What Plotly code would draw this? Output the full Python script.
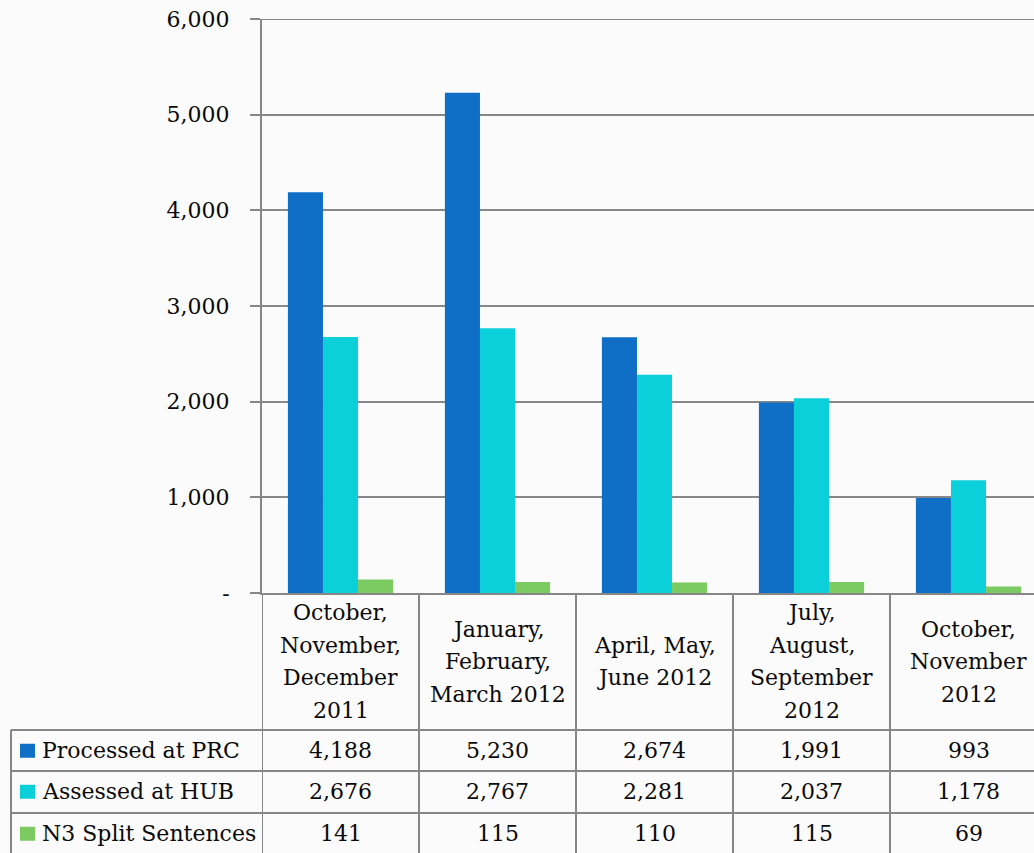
import plotly.graph_objects as go

categories = ["October,<br>November,<br>December<br>2011",
              "January,<br>February,<br>March 2012",
              "April, May,<br>June 2012",
              "July,<br>August,<br>September<br>2012",
              "October,<br>November<br>2012"]
series_names = ["Processed at PRC", "Assessed at HUB", "N3 Split Sentences"]
processed = [4188, 5230, 2674, 1991, 993]
assessed = [2676, 2767, 2281, 2037, 1178]
split = [141, 115, 110, 115, 69]
series_values = [processed, assessed, split]
colors = ["#0F6FC6", "#0BD0D9", "#7CCA62"]
ytick_vals = [0, 1000, 2000, 3000, 4000, 5000, 6000]
ytick_text = ["-", "1,000", "2,000", "3,000", "4,000", "5,000", "6,000"]

W, H = 1034, 853
L, R, T, B = 262, 0, 19, 260
PW = W - L - R
PH = H - T - B
FONT = "DejaVu Serif"
FS = 22
GRID = "#878787"
BG = "#fbfbfb"
TXT = "#0a0a0a"


def px_x(px):
    return (px - L) / PW


def px_y(py):
    return (H - B - py) / PH


fig = go.Figure()
for name, vals, col in zip(series_names, series_values, colors):
    fig.add_bar(x=categories, y=vals, name=name, marker=dict(color=col, line=dict(width=0)))

shapes = []
annotations = []
n = len(categories)
bottom = px_y(H + 5)
# vertical table lines (category boundaries)
for i in range(n + 1):
    shapes.append(dict(type="line", xref="x", yref="paper", x0=i - 0.5, x1=i - 0.5,
                       y0=0, y1=bottom, line=dict(color=GRID, width=2)))
# top gridline
shapes.append(dict(type="line", xref="paper", yref="y", x0=0, x1=1, y0=6000, y1=6000,
                   line=dict(color=GRID, width=2)))
# horizontal table lines
row_tops = [730, 771, 813]
for ry in row_tops:
    shapes.append(dict(type="line", xref="paper", yref="paper", x0=px_x(11), x1=1,
                       y0=px_y(ry), y1=px_y(ry), line=dict(color=GRID, width=2)))
# left border of the legend column
shapes.append(dict(type="line", xref="paper", yref="paper", x0=px_x(11), x1=px_x(11),
                   y0=px_y(730), y1=bottom, line=dict(color=GRID, width=2)))

# category header labels (one annotation per line for Excel-like line pitch)
pitch = 32.5
for i, c in enumerate(categories):
    lines = c.split("<br>")
    k = len(lines)
    for j, ln in enumerate(lines):
        cy = 661.5 + (j - (k - 1) / 2) * pitch
        annotations.append(dict(x=i, y=px_y(cy), xref="x", yref="paper", text=ln,
                                showarrow=False, xanchor="center", yanchor="middle",
                                font=dict(family=FONT, size=FS, color=TXT)))

row_h = 41.5
for r, (name, vals, col) in enumerate(zip(series_names, series_values, colors)):
    cy = row_tops[r] + row_h / 2
    shapes.append(dict(type="rect", xref="paper", yref="paper", x0=px_x(20), x1=px_x(35),
                       y0=px_y(cy - 7), y1=px_y(cy + 7), fillcolor=col, line=dict(width=0)))
    annotations.append(dict(x=px_x(40), y=px_y(cy), xref="paper", yref="paper", text=name,
                            showarrow=False, xanchor="left", yanchor="middle",
                            font=dict(family=FONT, size=FS, color=TXT)))
    for i, v in enumerate(vals):
        annotations.append(dict(x=i, y=px_y(cy), xref="x", yref="paper", text=f"{v:,}",
                                showarrow=False, xanchor="center", yanchor="middle",
                                font=dict(family=FONT, size=FS, color=TXT)))

fig.update_layout(
    width=W, height=H,
    margin=dict(l=L, r=R, t=T, b=B, pad=0),
    barmode="group", bargap=0.33, bargroupgap=0,
    paper_bgcolor=BG, plot_bgcolor=BG,
    showlegend=False,
    shapes=shapes, annotations=annotations,
    xaxis=dict(type="category", range=[-0.5, (W - L) / 157 - 0.5], showticklabels=False,
               showgrid=False, zeroline=False, showline=True, linecolor=GRID, linewidth=2,
               ticks=""),
    yaxis=dict(range=[0, 6000], tickvals=ytick_vals, ticktext=ytick_text,
               showgrid=True, gridcolor=GRID, gridwidth=2, zeroline=False,
               showline=True, linecolor=GRID, linewidth=2,
               ticks="outside", ticklen=10, tickcolor=GRID, tickwidth=2,
               ticklabelstandoff=16,
               tickfont=dict(family=FONT, size=FS, color=TXT)),
)
fig.write_html("out.html", config={"displayModeBar": False},
               post_script="document.body.style.margin='0';document.body.style.overflow='hidden';")
